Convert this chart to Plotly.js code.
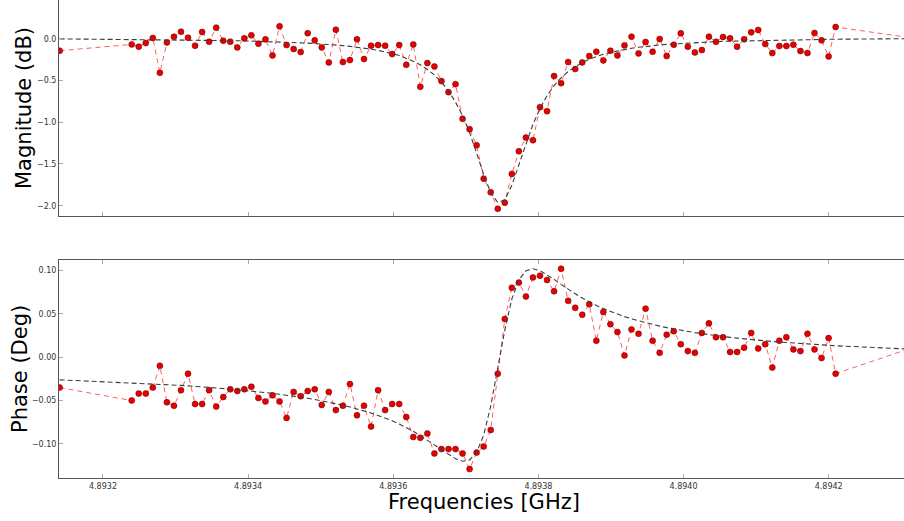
<!DOCTYPE html>
<html>
<head>
<meta charset="utf-8">
<script src="https://cdn.plot.ly/plotly-3.0.1.min.js"></script>
<style>
  html, body { margin: 0; padding: 0; background: #ffffff; }
  #chart { width: 904px; height: 521px; }
</style>
</head>
<body>
<div id="chart"></div>
<script>
// Frequencies [GHz]
var freq = [4.8931403,
  4.8932396, 4.8932493, 4.8932590, 4.8932687, 4.8932784, 4.8932881, 4.8932978, 4.8933075, 4.8933172, 4.8933269,
  4.8933366, 4.8933463, 4.8933560, 4.8933657, 4.8933754, 4.8933851, 4.8933948, 4.8934045, 4.8934142, 4.8934239,
  4.8934336, 4.8934433, 4.8934530, 4.8934627, 4.8934724, 4.8934821, 4.8934918, 4.8935015, 4.8935112, 4.8935209,
  4.8935306, 4.8935403, 4.8935500, 4.8935597, 4.8935694, 4.8935791, 4.8935888, 4.8935985, 4.8936082, 4.8936179,
  4.8936276, 4.8936373, 4.8936470, 4.8936567, 4.8936664, 4.8936761, 4.8936858, 4.8936955, 4.8937052, 4.8937149,
  4.8937246, 4.8937343, 4.8937440, 4.8937537, 4.8937634, 4.8937731, 4.8937828, 4.8937925, 4.8938022, 4.8938119,
  4.8938216, 4.8938313, 4.8938410, 4.8938507, 4.8938604, 4.8938701, 4.8938798, 4.8938895, 4.8938992, 4.8939089,
  4.8939186, 4.8939283, 4.8939380, 4.8939477, 4.8939574, 4.8939671, 4.8939768, 4.8939865, 4.8939962, 4.8940059,
  4.8940156, 4.8940253, 4.8940350, 4.8940447, 4.8940544, 4.8940641, 4.8940738, 4.8940835, 4.8940932, 4.8941029,
  4.8941126, 4.8941223, 4.8941320, 4.8941417, 4.8941514, 4.8941611, 4.8941708, 4.8941805, 4.8941902, 4.8941999,
  4.8942096,
  4.8943100];

// Magnitude (dB) measured
var magnitude = [
  -0.144, -0.068, -0.096, -0.052, 0.008, -0.408, -0.044, 0.024, 0.084, 0.012,
  -0.084, 0.080, -0.036, 0.132, -0.024, -0.036, -0.104, 0.004, 0.040, -0.060,
  -0.008, -0.200, 0.148, -0.076, -0.124, -0.160, 0.066, -0.020, -0.104, -0.284,
  0.108, -0.280, -0.256, -0.008, -0.244, -0.084, -0.076, -0.084, -0.184, -0.076,
  -0.312, -0.068, -0.576, -0.292, -0.332, -0.508, -0.640, -0.544, -0.960, -1.084,
  -1.276, -1.676, -1.840, -2.036, -1.964, -1.620, -1.348, -1.184, -1.216, -0.820,
  -0.868, -0.448, -0.532, -0.280, -0.364, -0.284, -0.208, -0.156, -0.260, -0.144,
  -0.200, -0.080, 0.024, -0.176, -0.040, -0.156, -0.004, -0.208, -0.072, 0.064,
  -0.096, -0.164, -0.136, 0.024, -0.036, 0.020, 0.004, -0.096, -0.008, 0.076,
  0.104, -0.064, -0.172, -0.088, -0.088, -0.072, -0.148, -0.172, 0.068, -0.020,
  -0.212, 0.140, 0.015];

// Magnitude (dB) fit
var magnitudeFit = [
  -0.002, -0.008, -0.008, -0.009, -0.010, -0.011, -0.012, -0.012, -0.013, -0.014,
  -0.016, -0.017, -0.018, -0.020, -0.021, -0.023, -0.024, -0.026, -0.028, -0.030,
  -0.033, -0.035, -0.038, -0.041, -0.045, -0.049, -0.053, -0.058, -0.063, -0.069,
  -0.076, -0.083, -0.092, -0.101, -0.112, -0.125, -0.140, -0.157, -0.178, -0.202,
  -0.235, -0.270, -0.313, -0.368, -0.435, -0.520, -0.625, -0.760, -0.920, -1.125,
  -1.370, -1.625, -1.845, -1.962, -1.928, -1.755, -1.510, -1.255, -1.025, -0.835,
  -0.682, -0.562, -0.468, -0.393, -0.334, -0.285, -0.246, -0.214, -0.186, -0.164,
  -0.145, -0.129, -0.115, -0.103, -0.092, -0.083, -0.075, -0.068, -0.062, -0.056,
  -0.051, -0.047, -0.042, -0.039, -0.035, -0.032, -0.030, -0.027, -0.025, -0.022,
  -0.020, -0.019, -0.017, -0.015, -0.014, -0.013, -0.011, -0.010, -0.009, -0.008,
  -0.007, -0.006, 0.000];

// Phase (Deg) measured
var phase = [
  -0.035, -0.050, -0.042, -0.042, -0.035, -0.010, -0.052, -0.056, -0.038, -0.019,
  -0.054, -0.054, -0.038, -0.057, -0.046, -0.037, -0.039, -0.037, -0.034, -0.047,
  -0.051, -0.044, -0.051, -0.070, -0.040, -0.045, -0.039, -0.037, -0.055, -0.040,
  -0.061, -0.056, -0.031, -0.067, -0.056, -0.080, -0.038, -0.061, -0.054, -0.054,
  -0.069, -0.092, -0.093, -0.088, -0.111, -0.106, -0.106, -0.106, -0.111, -0.129,
  -0.110, -0.103, -0.084, -0.019, 0.044, 0.080, 0.086, 0.070, 0.092, 0.094,
  0.089, 0.076, 0.102, 0.065, 0.057, 0.049, 0.061, 0.019, 0.052, 0.038,
  0.029, 0.002, 0.032, 0.027, 0.056, 0.019, 0.005, 0.026, 0.030, 0.015,
  0.007, 0.005, 0.028, 0.039, 0.023, 0.023, 0.006, 0.006, 0.011, 0.028,
  0.010, 0.015, -0.012, 0.019, 0.023, 0.009, 0.007, 0.027, 0.009, -0.001,
  0.022, -0.019, 0.0095];

// Phase (Deg) fit
var phaseFit = [
  -0.0261, -0.0294, -0.0298, -0.0303, -0.0307, -0.0311, -0.0316, -0.0320, -0.0325, -0.0331,
  -0.0336, -0.0342, -0.0348, -0.0354, -0.0360, -0.0367, -0.0375, -0.0382, -0.0390, -0.0399,
  -0.0407, -0.0417, -0.0427, -0.0437, -0.0449, -0.0461, -0.0473, -0.0487, -0.0502, -0.0518,
  -0.0535, -0.0553, -0.0574, -0.0595, -0.0618, -0.0643, -0.0672, -0.0701, -0.0733, -0.0770,
  -0.0811, -0.0855, -0.0905, -0.0954, -0.1011, -0.1068, -0.1123, -0.1170, -0.1200, -0.1185,
  -0.1097, -0.0898, -0.0564, -0.0129, 0.0313, 0.0671, 0.0891, 0.0996, 0.1020, 0.0998,
  0.0952, 0.0897, 0.0840, 0.0784, 0.0732, 0.0683, 0.0638, 0.0597, 0.0560, 0.0527,
  0.0496, 0.0468, 0.0442, 0.0419, 0.0397, 0.0376, 0.0358, 0.0341, 0.0325, 0.0310,
  0.0296, 0.0283, 0.0271, 0.0259, 0.0249, 0.0238, 0.0229, 0.0220, 0.0211, 0.0203,
  0.0195, 0.0188, 0.0181, 0.0175, 0.0169, 0.0163, 0.0157, 0.0151, 0.0146, 0.0141,
  0.0136, 0.0132, 0.0094];

// Tick labels
var freqTickVals = [4.8932, 4.8934, 4.8936, 4.8938, 4.8940, 4.8942];
var freqTickText = ['4.8932', '4.8934', '4.8936', '4.8938', '4.8940', '4.8942'];
var magTickVals = [-2.0, -1.5, -1.0, -0.5, 0.0];
var magTickText = ['\u22122.0', '\u22121.5', '\u22121.0', '\u22120.5', '0.0'];
var phaseTickVals = [-0.10, -0.05, 0.00, 0.05, 0.10];
var phaseTickText = ['\u22120.10', '\u22120.05', '0.00', '0.05', '0.10'];

var dataLine = {color: 'rgba(255,40,40,0.75)', width: 1, dash: '5px,4px'};
var dataMarker = {size: 6, color: '#e80000', line: {color: '#5a0000', width: 0.5}};
var fitLine = {color: '#3c3c3c', width: 1.1, dash: '5px,3px'};

var traces = [
  {x: freq, y: magnitude, xaxis: 'x', yaxis: 'y', type: 'scatter', mode: 'lines+markers',
   line: dataLine, marker: dataMarker, hoverinfo: 'skip'},
  {x: freq, y: magnitudeFit, xaxis: 'x', yaxis: 'y', type: 'scatter', mode: 'lines',
   line: fitLine, hoverinfo: 'skip'},
  {x: freq, y: phase, xaxis: 'x2', yaxis: 'y2', type: 'scatter', mode: 'lines+markers',
   line: dataLine, marker: dataMarker, hoverinfo: 'skip'},
  {x: freq, y: phaseFit, xaxis: 'x2', yaxis: 'y2', type: 'scatter', mode: 'lines',
   line: fitLine, hoverinfo: 'skip'}
];

var xRange = [4.8931394, 4.8943038];
var spine = '#555555';
var tickCol = '#aaaaaa';

function xAxis(anchor, showLabels, mirror) {
  return {
    anchor: anchor, domain: [0, 1], range: xRange,
    tickmode: 'array', tickvals: freqTickVals, ticktext: freqTickText,
    showticklabels: showLabels, ticks: 'inside', ticklen: 4, tickwidth: 1, tickcolor: tickCol,
    showline: true, linecolor: spine, linewidth: 1, mirror: mirror,
    showgrid: false, zeroline: false,
    tickfont: {family: 'DejaVu Sans', size: 8, color: '#333333'}
  };
}
function yAxis(anchor, domain, range, vals, text) {
  return {
    anchor: anchor, domain: domain, range: range,
    tickmode: 'array', tickvals: vals, ticktext: text,
    ticks: 'inside', ticklen: 4, tickwidth: 1, tickcolor: tickCol,
    showline: true, linecolor: spine, linewidth: 1,
    showgrid: false, zeroline: false,
    tickfont: {family: 'DejaVu Sans', size: 8, color: '#333333'}
  };
}

var layout = {
  width: 904, height: 521,
  margin: {l: 59, r: 0, t: 0, b: 43, pad: 0},
  paper_bgcolor: '#ffffff', plot_bgcolor: '#ffffff',
  showlegend: false,
  font: {family: 'DejaVu Sans', size: 8, color: '#333333'},
  xaxis: xAxis('y', false, false),
  xaxis2: xAxis('y2', true, 'ticks'),
  yaxis: yAxis('x', [0.5481, 1], [-2.1234, 0.4635], magTickVals, magTickText),
  yaxis2: yAxis('x2', [0, 0.4561], [-0.1393, 0.1121], phaseTickVals, phaseTickText),
  annotations: [
    {text: 'Magnitude (dB)', xref: 'paper', yref: 'paper', x: (24 - 59) / 845, y: (478 - 108) / 478,
     xanchor: 'center', yanchor: 'middle', textangle: -90, showarrow: false,
     font: {family: 'DejaVu Sans', size: 21, color: '#000000'}},
    {text: 'Phase (Deg)', xref: 'paper', yref: 'paper', x: (20 - 59) / 845, y: (478 - 369) / 478,
     xanchor: 'center', yanchor: 'middle', textangle: -90, showarrow: false,
     font: {family: 'DejaVu Sans', size: 21, color: '#000000'}},
    {text: 'Frequencies [GHz]', xref: 'paper', yref: 'paper', x: (484 - 59) / 845, y: -(502 - 478) / 478,
     xanchor: 'center', yanchor: 'middle', showarrow: false,
     font: {family: 'DejaVu Sans', size: 21, color: '#000000'}}
  ]
};

Plotly.newPlot('chart', traces, layout, {staticPlot: true, displayModeBar: false});
</script>
</body>
</html>
